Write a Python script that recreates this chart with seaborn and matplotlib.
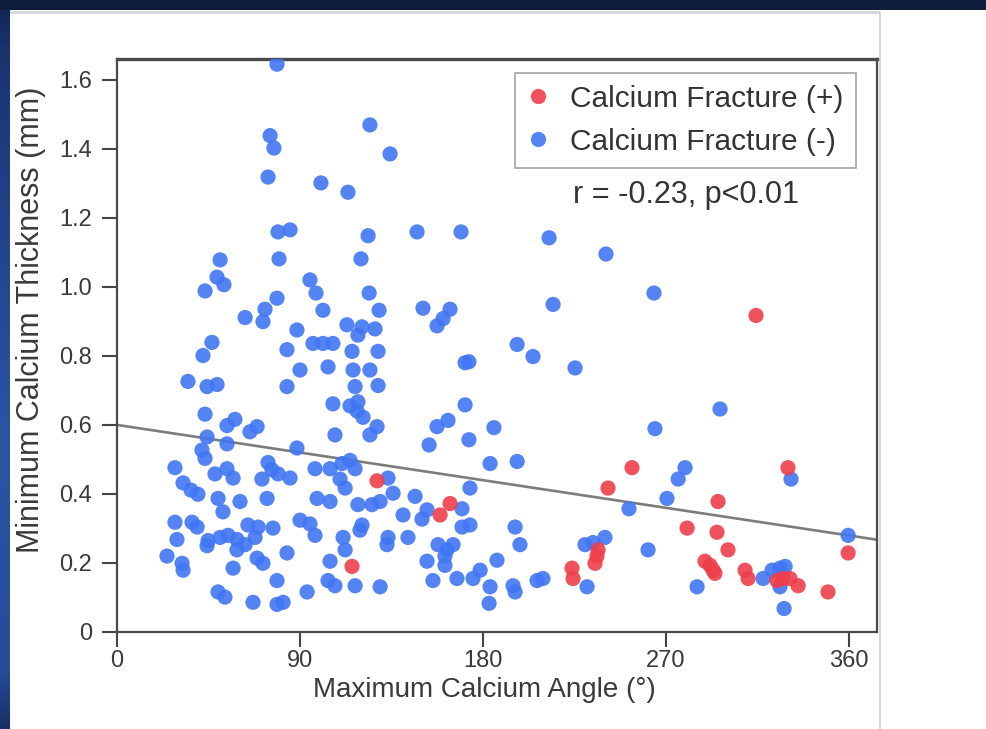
import numpy as np
import pandas as pd
import matplotlib
matplotlib.use("Agg")
import matplotlib.pyplot as plt
from matplotlib.patches import Rectangle
import seaborn as sns

# Lesions without calcium fracture: maximum calcium angle (deg) / minimum thickness (mm)
neg_angle = [
    78.7, 75.3, 77.2, 124.4, 134.3, 74.3, 100.3, 113.6, 79.2, 85.1,
    123.5, 147.6, 169.2, 212.5, 240.5, 50.7, 79.7, 120.0, 49.2, 52.6,
    94.9, 43.3, 97.9, 78.7, 124.0, 264.1, 63.0, 72.8, 71.8, 101.3,
    128.9, 150.5, 163.8, 160.4, 157.4, 214.5, 88.5, 113.1, 120.5, 126.9,
    118.5, 46.7, 42.3, 83.6, 96.4, 101.3, 106.2, 115.6, 128.4, 196.8,
    204.6, 171.2, 173.1, 225.3, 90.0, 103.8, 116.1, 124.4, 34.9, 44.3,
    49.2, 83.6, 117.1, 128.4, 43.3, 54.1, 58.0, 65.4, 68.9, 44.3,
    54.1, 88.5, 106.2, 114.6, 118.5, 118.1, 121.0, 127.9, 107.2, 124.4,
    296.6, 171.2, 157.4, 162.8, 185.4, 153.5, 173.1, 264.6, 41.8, 43.3,
    28.5, 48.2, 54.1, 57.1, 32.5, 36.4, 39.8, 74.3, 76.2, 79.2,
    85.1, 71.3, 73.8, 49.7, 60.5, 52.1, 97.4, 104.8, 110.7, 114.6,
    117.1, 109.7, 112.2, 133.3, 135.8, 146.6, 98.4, 104.8, 118.5, 125.4,
    129.4, 183.5, 196.8, 173.6, 331.5, 279.4, 276.0, 270.5, 251.8, 140.7,
    150.0, 152.5, 169.7, 28.5, 36.9, 39.4, 90.0, 94.9, 97.4, 29.5,
    44.8, 44.3, 50.7, 54.6, 59.0, 64.4, 69.4, 76.7, 59.0, 63.0,
    67.9, 83.6, 120.5, 119.5, 111.2, 112.2, 133.3, 132.8, 143.1, 169.7,
    173.6, 157.9, 162.3, 165.3, 161.3, 195.8, 198.2, 230.2, 234.1, 240.0,
    261.2, 359.6, 24.6, 32.0, 32.5, 57.1, 68.9, 71.8, 78.7, 49.7,
    53.1, 66.9, 78.7, 81.7, 93.5, 104.8, 152.5, 161.3, 186.9, 103.8,
    107.2, 117.1, 129.4, 155.4, 167.2, 175.1, 178.6, 183.5, 183.0, 194.8,
    195.8, 206.6, 209.5, 231.2, 285.3, 317.8, 322.2, 326.1, 328.6, 326.1,
    328.1,
]
neg_thick = [
    1.645, 1.438, 1.402, 1.469, 1.385, 1.318, 1.301, 1.274, 1.159, 1.165,
    1.148, 1.159, 1.159, 1.142, 1.095, 1.078, 1.081, 1.081, 1.028, 1.006,
    1.020, 0.988, 0.982, 0.967, 0.982, 0.982, 0.911, 0.935, 0.899, 0.932,
    0.932, 0.938, 0.935, 0.908, 0.887, 0.949, 0.875, 0.890, 0.884, 0.878,
    0.860, 0.839, 0.801, 0.818, 0.836, 0.836, 0.836, 0.813, 0.813, 0.833,
    0.798, 0.780, 0.783, 0.765, 0.759, 0.768, 0.759, 0.759, 0.726, 0.711,
    0.717, 0.711, 0.711, 0.714, 0.631, 0.598, 0.616, 0.580, 0.595, 0.565,
    0.545, 0.533, 0.661, 0.655, 0.667, 0.640, 0.622, 0.595, 0.571, 0.571,
    0.646, 0.658, 0.595, 0.613, 0.592, 0.542, 0.557, 0.589, 0.527, 0.503,
    0.476, 0.458, 0.473, 0.446, 0.432, 0.411, 0.399, 0.491, 0.470, 0.458,
    0.446, 0.443, 0.387, 0.387, 0.378, 0.348, 0.473, 0.473, 0.488, 0.497,
    0.473, 0.443, 0.417, 0.446, 0.402, 0.393, 0.387, 0.378, 0.369, 0.369,
    0.378, 0.488, 0.494, 0.417, 0.443, 0.476, 0.443, 0.387, 0.357, 0.339,
    0.327, 0.354, 0.357, 0.318, 0.318, 0.304, 0.324, 0.313, 0.280, 0.268,
    0.265, 0.250, 0.274, 0.280, 0.268, 0.310, 0.304, 0.301, 0.238, 0.253,
    0.274, 0.229, 0.310, 0.295, 0.274, 0.238, 0.274, 0.253, 0.274, 0.304,
    0.310, 0.253, 0.238, 0.253, 0.220, 0.304, 0.253, 0.253, 0.259, 0.274,
    0.238, 0.280, 0.220, 0.199, 0.179, 0.185, 0.214, 0.199, 0.149, 0.116,
    0.101, 0.086, 0.080, 0.086, 0.116, 0.205, 0.205, 0.193, 0.208, 0.149,
    0.134, 0.134, 0.131, 0.149, 0.155, 0.155, 0.179, 0.131, 0.083, 0.134,
    0.116, 0.149, 0.155, 0.131, 0.131, 0.155, 0.179, 0.185, 0.190, 0.131,
    0.068,
]

# Lesions with calcium fracture
pos_angle = [
    127.9, 115.6, 158.9, 163.8, 223.8, 224.3, 236.6, 236.1, 235.1, 241.5,
    253.3, 280.4, 295.6, 295.1, 300.5, 289.2, 291.7, 293.2, 294.1, 308.9,
    310.4, 314.3, 330.0, 324.6, 327.6, 331.0, 335.0, 349.7, 359.6,
]
pos_thick = [
    0.438, 0.190, 0.339, 0.372, 0.185, 0.155, 0.238, 0.220, 0.199, 0.417,
    0.476, 0.301, 0.378, 0.289, 0.238, 0.205, 0.193, 0.179, 0.170, 0.179,
    0.155, 0.917, 0.476, 0.149, 0.155, 0.155, 0.134, 0.116, 0.229,
]

groups = ["Calcium Fracture (+)", "Calcium Fracture (-)"]
group_colors = ["#ee3f4b", "#4176f3"]

# Linear fit over all lesions
fit_intercept = 0.60
fit_slope = -0.00089
stat_text = "r = -0.23, p<0.01"

x_ticks = [0, 90, 180, 270, 360]
y_ticks = [0, 0.2, 0.4, 0.6, 0.8, 1.0, 1.2, 1.4, 1.6]
y_tick_labels = ["0", "0.2", "0.4", "0.6", "0.8", "1.0", "1.2", "1.4", "1.6"]

df = pd.DataFrame({
    "angle": neg_angle + pos_angle,
    "thickness": neg_thick + pos_thick,
    "group": [groups[1]] * len(neg_angle) + [groups[0]] * len(pos_angle),
})

sns.set_theme(style="white")
plt.rcParams["font.family"] = ["Liberation Sans", "DejaVu Sans"]

W, H = 986, 729
fig = plt.figure(figsize=(W / 100, H / 100), dpi=100)
fig.patch.set_facecolor("#0f1d3b")

# white slide panel behind the chart
panel = fig.add_axes([10 / W, 0, 1 - 10 / W, 1 - 10 / H], zorder=-10)
panel.set_xlim(0, W - 10)
panel.set_ylim(H - 10, 0)
panel.add_patch(Rectangle((0, 0), W, H, facecolor="white", edgecolor="none", zorder=-1))
panel.add_patch(Rectangle((0, 1), 870, 3, facecolor="#d5d9e0", edgecolor="none"))
panel.plot([870, 870], [2, H], color="#c9cdd6", lw=1.2)
panel.set_axis_off()

# left gradient strip of the slide
strip = fig.add_axes([0, 0, 10 / W, 1 - 10 / H], zorder=-9)
grad = np.array([0.0, 0.05, 0.35, 0.6, 0.92, 1.0])
cols = np.array([
    [0x13, 0x27, 0x58], [0x1a, 0x33, 0x6e], [0x24, 0x46, 0x90],
    [0x2b, 0x55, 0xa3], [0x27, 0x4c, 0x98], [0x18, 0x2f, 0x66],
]) / 255.0
ys = np.linspace(0, 1, 300)
img = np.stack([np.interp(ys, grad, cols[:, k]) for k in range(3)], axis=-1)
strip.imshow(img[:, None, :], aspect="auto", extent=[0, 1, 1, 0])
strip.set_axis_off()

ax = fig.add_axes([117 / W, 1 - 632 / H, 760 / W, 573 / H], zorder=5)
ax.set_facecolor("white")

sns.scatterplot(
    data=df, x="angle", y="thickness", hue="group",
    hue_order=groups, palette=group_colors,
    s=120, alpha=0.9, linewidth=0, ax=ax, zorder=3,
)

ax.axline((0, fit_intercept), slope=fit_slope, color="#7c7c7c", lw=1.9, zorder=2)

ax.set_xlim(0, 373.8)
ax.set_ylim(0, 1.66)
ax.set_xticks(x_ticks)
ax.set_yticks(y_ticks)
ax.set_yticklabels(y_tick_labels)
ax.tick_params(axis="both", which="major", direction="out", length=11, width=1.5,
               color="#444444", labelcolor="#3a3a3a", labelsize=17,
               bottom=True, left=True)
ax.tick_params(axis="x", pad=2)
ax.tick_params(axis="y", pad=7)
for side in ["left", "bottom", "right", "top"]:
    ax.spines[side].set_visible(True)
    ax.spines[side].set_color("#4a4a4a")
    ax.spines[side].set_linewidth(1.6)
ax.spines["top"].set_linewidth(2.4)

ax.set_xlabel("Maximum Calcium Angle (°)", fontsize=20, color="#3a3a3a")
ax.set_ylabel("Minimum Calcium Thickness (mm)", fontsize=22, color="#3a3a3a")
ax.xaxis.set_label_coords(0.484, -0.079)
ax.yaxis.set_label_coords(-0.094, 0.545)

sns.move_legend(
    ax, "upper left", bbox_to_anchor=(0.524, 0.976), title=None,
    frameon=True, fontsize=21.5, markerscale=1.0, handlelength=0.75,
    handletextpad=0.7, borderpad=0.4, labelspacing=0.5, fancybox=False,
    borderaxespad=0,
)
leg = ax.get_legend()
leg.get_frame().set_edgecolor("#8c8c8c")
leg.get_frame().set_linewidth(1.2)
for t in leg.get_texts():
    t.set_color("#333333")

ax.text(0.749, 0.763, stat_text, transform=ax.transAxes, ha="center", va="center",
        fontsize=22, color="#333333")

fig.savefig("out.png", dpi=100, facecolor=fig.get_facecolor())
